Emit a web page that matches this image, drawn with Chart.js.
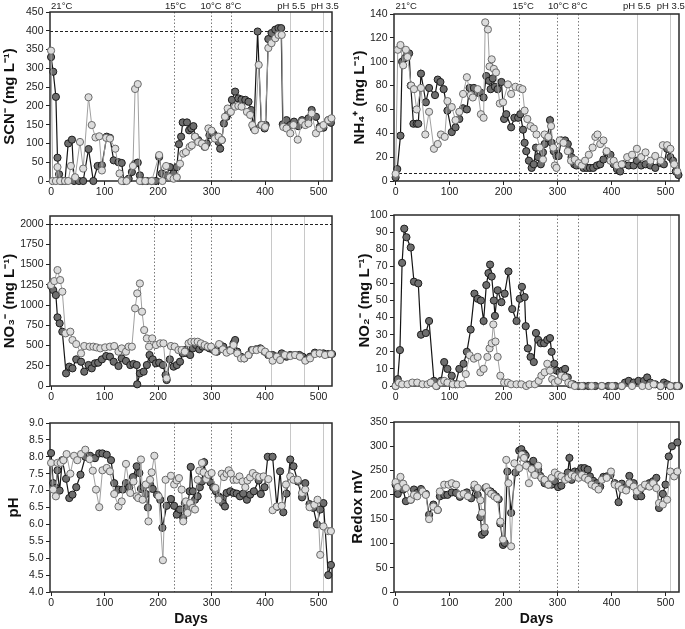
<!DOCTYPE html>
<html><head><meta charset="utf-8">
<script src="https://cdn.jsdelivr.net/npm/chart.js@4.4.1/dist/chart.umd.min.js"></script>
<style>
html,body{margin:0;padding:0;background:#fff;}
#wrap{position:relative;width:685px;height:629px;overflow:hidden;}
canvas{position:absolute;}
</style></head>
<body><div id="wrap">
<canvas id="c1" width="342" height="205" style="left:0;top:0"></canvas>
<canvas id="c2" width="342" height="205" style="left:343px;top:0"></canvas>
<canvas id="c3" width="342" height="205" style="left:0;top:205px"></canvas>
<canvas id="c4" width="342" height="205" style="left:343px;top:205px"></canvas>
<canvas id="c5" width="342" height="219" style="left:0;top:410px"></canvas>
<canvas id="c6" width="342" height="219" style="left:343px;top:410px"></canvas>
</div>
<script>
// ---------- DATA ----------
const dayTicks = [0,100,200,300,400,500];
const eventDays = [229,299,337,447,508];
const eventDaysNO3 = [192,262,299,411,473];
const eventLabels = ['15°C','10°C','8°C','pH 5.5','pH 3.5'];
const startLabel = '21°C';

const scnTicks = [0,50,100,150,200,250,300,350,400,450];
const nh4Ticks = [0,20,40,60,80,100,120,140];
const no3Ticks = [0,250,500,750,1000,1250,1500,1750,2000];
const no2Ticks = [0,10,20,30,40,50,60,70,80,90,100];
const phTicks = [4,4.5,5,5.5,6,6.5,7,7.5,8,8.5,9];
const redoxTicks = [0,50,100,150,200,250,300,350];

const scnLimit = 400, nh4Limit = 7, no3Limit = 2000;

const scnDark = [[0,330],[4,291],[9,224],[12,62],[15,18],[19,0],[26,0],[32,100],[39,110],[43,0],[52,0],[60,0],[70,85],[79,0],[87,40],[95,42],[104,118],[110,115],[117,55],[126,50],[132,48],[136,0],[145,6],[151,24],[157,46],[162,49],[166,15],[171,0],[179,0],[188,0],[196,0],[202,64],[207,20],[216,15],[222,37],[229,20],[235,37],[239,98],[243,118],[246,156],[254,156],[258,135],[262,140],[266,146],[269,118],[275,109],[282,100],[287,91],[291,100],[296,122],[303,126],[308,119],[313,104],[316,86],[319,109],[323,153],[328,171],[331,180],[338,216],[344,238],[350,220],[356,217],[363,216],[369,211],[374,189],[379,140],[386,398],[393,149],[399,140],[401,149],[406,378],[412,394],[419,403],[425,407],[430,407],[433,151],[440,162],[447,149],[454,158],[462,146],[469,162],[475,153],[481,167],[487,189],[495,171],[502,144],[509,142],[518,162],[523,155]];
const scnLight = [[0,347],[3,0],[9,0],[12,37],[17,0],[26,0],[32,0],[37,40],[45,10],[54,104],[60,33],[70,223],[76,149],[83,116],[90,119],[95,28],[103,115],[110,113],[120,86],[128,20],[132,0],[141,0],[153,40],[157,245],[162,258],[166,0],[176,0],[188,0],[202,69],[208,0],[215,40],[222,10],[229,6],[235,10],[241,46],[247,73],[252,77],[259,91],[263,95],[269,118],[275,104],[282,100],[288,91],[294,140],[300,134],[306,113],[313,118],[319,109],[325,171],[330,193],[336,184],[344,198],[350,200],[356,198],[366,184],[372,176],[376,149],[381,135],[388,309],[394,149],[400,144],[406,354],[412,367],[419,380],[425,389],[431,389],[434,144],[440,140],[447,127],[453,149],[461,110],[469,158],[475,149],[481,153],[487,180],[495,127],[502,140],[509,149],[518,162],[524,167]];

const nh4Dark = [[0,3],[3,10],[9,38],[12,100],[17,103],[22,107],[25,107],[28,80],[33,48],[39,48],[42,48],[47,90],[56,66],[62,78],[73,72],[78,85],[83,83],[89,77],[96,59],[104,41],[111,45],[118,52],[125,61],[132,60],[137,78],[145,78],[152,74],[158,74],[163,70],[168,88],[173,84],[176,77],[180,86],[184,79],[189,77],[196,83],[201,52],[205,56],[214,45],[220,53],[227,53],[231,56],[236,43],[239,32],[242,25],[247,17],[252,11],[256,14],[260,28],[264,20],[269,14],[273,24],[276,31],[281,36],[286,51],[289,32],[293,25],[298,21],[302,21],[307,34],[314,34],[319,31],[323,25],[326,20],[331,14],[335,13],[342,14],[348,11],[354,11],[360,11],[366,11],[373,13],[379,14],[385,18],[391,24],[398,22],[404,14],[410,10],[416,8],[422,14],[432,13],[441,13],[447,17],[455,13],[463,14],[472,13],[481,11],[491,15],[497,14],[503,27],[509,20],[514,17],[519,8],[524,5]];
const nh4Light = [[0,6],[4,110],[9,114],[14,97],[19,110],[22,104],[29,80],[34,77],[39,60],[47,78],[55,39],[62,58],[71,27],[78,31],[84,39],[91,37],[96,67],[104,62],[111,51],[118,58],[125,73],[132,87],[139,72],[143,70],[152,77],[158,56],[163,53],[166,133],[171,127],[174,96],[178,102],[182,94],[186,91],[193,65],[199,66],[208,81],[214,73],[222,79],[230,78],[235,77],[239,59],[244,52],[250,46],[256,44],[261,39],[267,28],[273,18],[276,39],[283,37],[288,46],[292,28],[295,13],[298,11],[304,34],[311,32],[319,25],[325,17],[332,18],[339,15],[345,13],[351,17],[358,22],[365,28],[370,37],[374,39],[379,31],[385,34],[391,25],[398,17],[404,17],[410,13],[419,14],[429,20],[438,22],[447,27],[455,20],[463,24],[472,17],[481,21],[491,17],[495,30],[503,30],[509,27],[516,14],[522,8]];

const no3Dark = [[0,1235],[4,1185],[9,1123],[12,848],[16,774],[21,671],[28,156],[34,239],[40,218],[47,329],[56,300],[62,177],[70,259],[76,218],[82,280],[88,288],[95,329],[103,370],[110,362],[117,300],[126,247],[132,341],[140,309],[148,259],[154,272],[160,259],[161,21],[166,156],[173,177],[179,259],[184,383],[190,329],[196,280],[202,288],[209,259],[214,136],[216,74],[222,329],[229,239],[235,259],[241,300],[246,403],[250,444],[255,403],[260,383],[265,465],[271,506],[277,453],[283,486],[290,486],[296,465],[302,453],[310,424],[316,506],[322,486],[328,424],[335,444],[341,527],[344,568],[348,424],[355,362],[361,341],[369,383],[375,444],[383,453],[391,465],[399,424],[406,383],[414,383],[422,362],[431,403],[440,362],[447,383],[456,383],[464,383],[470,362],[477,329],[484,362],[493,412],[502,403],[509,403],[518,395],[525,395]];
const no3Light = [[0,1247],[6,1296],[12,1432],[17,1309],[21,1165],[27,650],[36,671],[40,568],[47,518],[56,403],[62,494],[72,486],[79,486],[85,477],[92,465],[101,477],[110,486],[118,494],[126,424],[132,465],[140,424],[145,486],[151,486],[157,959],[161,1144],[166,1267],[170,918],[174,691],[179,588],[183,486],[189,588],[196,506],[204,527],[210,527],[216,95],[224,494],[231,486],[238,444],[244,444],[250,424],[257,527],[262,547],[268,547],[274,547],[280,527],[287,506],[293,486],[299,486],[307,424],[314,518],[321,453],[328,412],[335,436],[341,506],[348,403],[355,341],[361,341],[369,383],[377,444],[384,444],[393,453],[400,424],[408,383],[414,313],[422,362],[428,321],[437,383],[447,370],[456,383],[465,362],[475,313],[484,341],[493,395],[502,403],[512,383],[523,395]];

const no2Dark = [[0,0],[4,4],[8,21],[12,72],[16,92],[20,87],[28,81],[34,61],[42,60],[47,30],[56,31],[62,38],[71,3],[76,0],[84,3],[90,14],[96,10],[104,6],[111,1],[118,10],[126,13],[132,20],[139,33],[146,54],[152,51],[158,50],[163,38],[168,59],[172,66],[175,71],[178,64],[182,50],[184,41],[189,56],[196,49],[202,54],[209,67],[216,45],[224,38],[230,51],[234,58],[239,52],[241,35],[245,22],[250,17],[256,14],[260,31],[264,27],[269,25],[275,25],[281,27],[286,28],[289,20],[294,13],[298,9],[304,8],[309,9],[314,10],[319,5],[323,1],[329,1],[339,0],[348,0],[357,0],[370,0],[382,0],[394,0],[407,0],[419,0],[425,2],[432,3],[441,2],[450,3],[460,3],[466,5],[472,2],[481,1],[491,0],[497,2],[503,1],[509,0],[519,0],[525,0]];
const no2Light = [[0,0],[6,2],[12,1],[22,1],[31,2],[40,2],[50,1],[59,1],[65,2],[75,0],[84,2],[90,3],[96,2],[106,1],[115,1],[124,1],[130,7],[137,18],[145,16],[152,17],[157,8],[163,10],[170,17],[174,22],[178,25],[181,36],[185,26],[189,17],[194,6],[201,2],[208,2],[214,1],[224,1],[233,1],[242,0],[248,1],[258,1],[265,3],[270,6],[276,8],[281,13],[286,9],[290,4],[295,2],[301,3],[307,6],[314,5],[320,2],[326,1],[332,0],[345,0],[363,0],[382,0],[401,0],[419,0],[438,0],[457,0],[469,0],[478,1],[491,0],[509,0],[522,0]];

const phDark = [[0,8.11],[4,7.22],[9,7.08],[12,7.6],[16,7.0],[21,7.9],[28,7.35],[34,6.78],[40,6.88],[47,7.1],[55,7.47],[64,8.0],[73,8.03],[82,7.96],[90,8.1],[96,8.1],[104,8.06],[112,7.9],[118,7.22],[126,7.03],[134,7.03],[140,7.22],[146,7.1],[153,7.4],[160,7.72],[165,7.52],[168,7.05],[173,7.1],[177,6.9],[181,6.5],[185,7.18],[190,7.05],[198,6.88],[204,6.73],[208,5.9],[216,6.55],[224,6.75],[230,6.55],[235,6.29],[241,6.44],[247,6.19],[250,6.63],[255,6.53],[259,6.98],[261,7.7],[265,6.98],[269,6.73],[274,6.83],[278,7.1],[282,7.27],[286,7.84],[290,7.34],[294,7.42],[298,7.24],[303,7.1],[308,6.98],[313,6.83],[317,6.78],[321,6.63],[325,6.53],[328,6.93],[335,6.98],[341,6.93],[347,6.91],[353,6.83],[359,6.91],[366,6.73],[372,6.88],[379,6.98],[388,7.3],[392,6.9],[399,7.1],[405,8.0],[414,8.0],[422,6.52],[428,7.57],[434,6.36],[440,6.91],[447,7.92],[453,7.72],[461,7.27],[469,6.8],[475,7.22],[483,6.6],[490,6.49],[497,6.0],[503,6.44],[509,6.63],[518,4.5],[523,4.8]];
const phLight = [[0,7.82],[4,7.03],[9,6.83],[12,7.82],[18,7.82],[23,7.9],[29,8.08],[36,7.5],[43,8.03],[49,7.9],[56,8.08],[64,8.21],[72,7.93],[78,7.59],[84,7.03],[90,6.51],[96,7.6],[104,7.67],[110,7.57],[118,6.9],[126,6.53],[132,6.68],[140,7.79],[148,6.93],[154,7.27],[160,6.83],[163,6.78],[168,7.92],[171,6.73],[177,7.18],[182,6.09],[185,7.32],[188,7.54],[193,8.03],[201,6.83],[209,4.94],[214,7.32],[224,7.44],[230,7.18],[235,7.3],[239,7.37],[244,7.03],[247,6.09],[252,6.68],[255,6.34],[260,6.63],[265,6.49],[269,6.44],[274,7.32],[277,7.59],[282,7.82],[285,7.54],[290,7.34],[294,7.47],[300,7.52],[307,7.08],[313,6.73],[319,7.5],[323,7.4],[328,7.5],[332,7.6],[336,7.5],[341,7.32],[347,7.32],[352,7.42],[358,7.27],[363,7.1],[367,7.3],[372,7.39],[377,7.52],[383,7.44],[389,7.4],[397,7.42],[406,7.34],[414,6.42],[422,6.53],[431,6.55],[439,7.18],[447,7.42],[453,7.32],[461,7.32],[469,6.93],[475,7.03],[483,6.51],[492,6.58],[498,6.73],[503,5.1],[509,5.94],[518,5.8],[523,5.8]];

const redoxDark = [[0,221],[4,202],[9,216],[14,211],[19,187],[28,190],[34,211],[40,204],[47,212],[56,202],[62,159],[70,180],[78,169],[82,197],[90,200],[96,200],[104,205],[112,204],[119,196],[126,202],[132,205],[140,193],[146,215],[152,200],[157,154],[160,118],[165,123],[166,214],[171,209],[176,207],[181,202],[186,197],[191,191],[194,141],[199,97],[202,101],[207,248],[214,163],[222,246],[229,291],[233,294],[238,285],[241,281],[245,262],[252,255],[255,270],[259,246],[264,252],[268,239],[272,233],[276,224],[283,221],[289,221],[295,228],[301,216],[307,219],[314,233],[319,246],[322,276],[326,231],[332,248],[339,248],[344,255],[350,255],[356,252],[360,238],[366,229],[373,224],[379,217],[385,237],[391,238],[398,241],[406,224],[413,185],[419,223],[427,216],[433,239],[441,224],[447,197],[455,197],[462,219],[470,224],[477,228],[483,235],[488,173],[495,202],[500,221],[506,279],[512,300],[522,308]];
const redoxLight = [[0,226],[4,216],[9,237],[14,223],[19,214],[28,190],[34,200],[40,197],[50,207],[56,200],[62,150],[70,176],[78,169],[82,207],[90,221],[98,221],[104,224],[112,221],[119,200],[126,202],[134,197],[146,221],[152,214],[157,189],[160,163],[165,133],[168,216],[172,207],[177,202],[183,197],[188,193],[194,145],[199,108],[205,272],[209,224],[214,94],[220,265],[229,255],[234,283],[238,276],[242,260],[247,224],[252,253],[258,241],[264,260],[270,235],[276,231],[283,221],[289,235],[295,246],[301,241],[307,238],[314,231],[320,235],[326,241],[332,238],[339,235],[345,241],[351,235],[357,231],[363,221],[370,217],[376,211],[382,231],[391,235],[399,248],[406,221],[413,219],[419,212],[427,209],[433,224],[441,217],[447,207],[455,214],[462,221],[470,217],[477,224],[483,214],[488,183],[495,180],[503,190],[509,248],[516,238],[522,248]];

// ---------- DRAWING ----------
const FONT = '"Liberation Sans", Arial, Helvetica, sans-serif';

const panelDeco = {
  id: 'panelDeco',
  beforeDatasetsDraw(chart, args, o) {
    const {ctx, chartArea: a, scales: {x, y}} = chart;
    ctx.save();
    (o.vlines || []).forEach((d, i) => {
      const px = Math.round(x.getPixelForValue(d)) + 0.5;
      ctx.beginPath();
      if (i < 3) { ctx.setLineDash([1.5, 2]); ctx.strokeStyle = '#7a7a7a'; }
      else { ctx.setLineDash([]); ctx.strokeStyle = '#c8c8c8'; }
      ctx.lineWidth = 1;
      ctx.moveTo(px, a.top); ctx.lineTo(px, a.bottom); ctx.stroke();
    });
    if (o.hline != null) {
      const py = Math.round(y.getPixelForValue(o.hline)) + 0.5;
      ctx.beginPath(); ctx.setLineDash([3, 2]); ctx.strokeStyle = '#222'; ctx.lineWidth = 1;
      ctx.moveTo(a.left, py); ctx.lineTo(a.right, py); ctx.stroke();
    }
    ctx.setLineDash([]);
    ctx.strokeStyle = '#2a2a2a'; ctx.lineWidth = 1.5;
    ctx.strokeRect(a.left, a.top, a.width, a.height);
    if (o.labels) {
      ctx.fillStyle = '#222';
      ctx.font = '9.5px ' + FONT;
      ctx.textBaseline = 'middle';
      ctx.textAlign = 'left';
      ctx.fillText(startLabel, x.getPixelForValue(0), o.labelY);
      ctx.textAlign = 'center';
      o.vlines.forEach((d, i) => {
        ctx.fillText(eventLabels[i], x.getPixelForValue(d) + o.labelDx[i], o.labelY);
      });
    }
    ctx.restore();
  }
};

function makePanel(id, p) {
  const pts = arr => arr.map(([x, y]) => ({x, y}));
  new Chart(document.getElementById(id), {
    type: 'line',
    data: { datasets: [
      { data: pts(p.light), borderColor: '#a0a0a0', borderWidth: 1, backgroundColor: '#dcdcdc',
        pointBackgroundColor: '#dcdcdc', pointBorderColor: '#6a6a6a', pointBorderWidth: 1,
        pointRadius: 3.6, tension: 0, clip: false },
      { data: pts(p.dark), borderColor: '#151515', borderWidth: 1.2, backgroundColor: '#6e6e6e',
        pointBackgroundColor: '#6e6e6e', pointBorderColor: '#1c1c1c', pointBorderWidth: 1,
        pointRadius: 3.6, tension: 0, clip: false }
    ]},
    options: {
      responsive: false, animation: false, devicePixelRatio: 1,
      layout: { padding: { left: 0, top: p.area.T, right: p.w - p.area.R, bottom: 0 } },
      plugins: { legend: { display: false }, tooltip: { enabled: false },
        panelDeco: { vlines: p.vlines, hline: p.hline, labels: p.labels, labelY: p.labelY, labelDx: p.labelDx } },
      scales: {
        x: { type: 'linear', min: p.xr[0], max: p.xr[1],
          afterFit: s => { s.height = p.h - p.area.B; },
          afterBuildTicks: s => { s.ticks = dayTicks.map(v => ({value: v})); },
          grid: { drawOnChartArea: false, drawTicks: true, tickLength: 4, color: '#222' },
          border: { display: false },
          ticks: { font: { family: FONT, size: 10.5 }, color: '#222', padding: 1, maxRotation: 0, autoSkip: false },
          title: { display: !!p.days, text: 'Days', color: '#111', font: { family: FONT, size: 14, weight: 'bold' }, padding: { top: 0, bottom: 1 } }
        },
        y: { type: 'linear', min: p.yr[0], max: p.yr[1],
          afterFit: s => { s.width = p.area.L; },
          afterBuildTicks: s => { s.ticks = p.yTicks.map(v => ({value: v})); },
          grid: { drawOnChartArea: false, drawTicks: true, tickLength: 4, color: '#222' },
          border: { display: false },
          ticks: { font: { family: FONT, size: 10.5 }, color: '#222', padding: 2.5, autoSkip: false,
                   callback: p.yFmt || (v => String(v)) },
          title: { display: true, text: p.title, color: '#111', font: { family: FONT, size: 15, weight: 'bold' }, padding: { top: p.titlePad, bottom: 0 } }
        }
      }
    },
    plugins: [panelDeco]
  });
}

const XL = [-2, 525], XR = [-3, 525];

makePanel('c1', { w: 342, h: 205, area: {L: 50, T: 12, R: 332, B: 181}, xr: XL, yr: [0, 450], yTicks: scnTicks,
  title: 'SCN⁻ (mg L⁻¹)', titlePad: 1, dark: scnDark, light: scnLight, vlines: eventDays, hline: scnLimit,
  labels: true, labelY: 6, labelDx: [2, 0, 2, 1, 2] });
makePanel('c2', { w: 342, h: 205, area: {L: 51, T: 14, R: 336, B: 181}, xr: XR, yr: [0, 140], yTicks: nh4Ticks,
  title: 'NH₄⁺ (mg L⁻¹)', titlePad: 8, dark: nh4Dark, light: nh4Light, vlines: eventDays, hline: nh4Limit,
  labels: true, labelY: 6.5, labelDx: [4, 1.5, 2, 0, 1] });
makePanel('c3', { w: 342, h: 205, area: {L: 50, T: 11, R: 332, B: 181}, xr: XL, yr: [0, 2100], yTicks: no3Ticks,
  title: 'NO₃⁻ (mg L⁻¹)', titlePad: 1, dark: no3Dark, light: no3Light, vlines: eventDaysNO3, hline: no3Limit });
makePanel('c4', { w: 342, h: 205, area: {L: 51, T: 10, R: 336, B: 181}, xr: XR, yr: [0, 100], yTicks: no2Ticks,
  title: 'NO₂⁻ (mg L⁻¹)', titlePad: 13, dark: no2Dark, light: no2Light, vlines: eventDays, hline: null });
makePanel('c5', { w: 342, h: 219, area: {L: 50, T: 13, R: 332, B: 182}, xr: XL, yr: [4, 9], yTicks: phTicks,
  title: 'pH', titlePad: 5, dark: phDark, light: phLight, vlines: eventDays, hline: null, days: true,
  yFmt: v => Number(v).toFixed(1) });
makePanel('c6', { w: 342, h: 219, area: {L: 51, T: 12, R: 336, B: 182}, xr: XR, yr: [0, 350], yTicks: redoxTicks,
  title: 'Redox mV', titlePad: 6, dark: redoxDark, light: redoxLight, vlines: eventDays, hline: null, days: true });
</script>
</body></html>
